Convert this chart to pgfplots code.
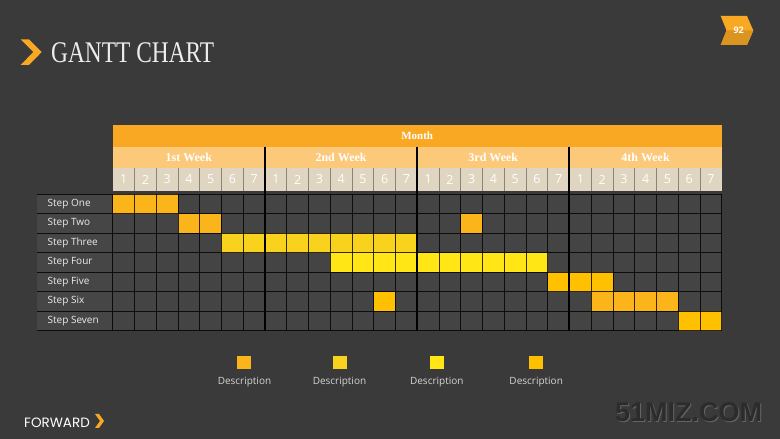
\documentclass[border=0pt]{standalone}
\usepackage{pgfplots}
\pgfplotsset{compat=1.18}
\usepackage{fontspec}
\setmainfont{Open Sans}
\newfontfamily\serifF{Liberation Serif}
\newfontfamily\popF{Poppins}
\newfontfamily\wmF{Liberation Sans}
\definecolor{bg}{HTML}{3A3A3A}
\definecolor{cell}{HTML}{444444}
\definecolor{lab}{HTML}{464646}
\definecolor{mon}{HTML}{F8A823}
\definecolor{wk}{HTML}{FCC97A}
\definecolor{dy}{HTML}{DFD5C1}
\definecolor{dysep}{HTML}{8A8377}
\definecolor{cA}{HTML}{FBB41A}
\definecolor{cB}{HTML}{F9D21E}
\definecolor{cC}{HTML}{FFE614}
\definecolor{cD}{HTML}{FFC000}
\definecolor{txt}{HTML}{ECECEC}
\begin{document}
\begin{tikzpicture}[x=1pt,y=1pt]
\fill[bg] (0,0) rectangle (780,439);
\useasboundingbox (0,0) rectangle (780,439);
% title
\fill[mon] (20.7,399.7) -- (29,399.7) -- (41.7,387) -- (29,374) -- (20.7,374) -- (33.3,387) -- cycle;
\node[anchor=base west, inner sep=0, text=txt] at (51,376) {\serifF\fontsize{30}{30}\selectfont\scalebox{0.78}[1]{GANTT CHART}};
% page badge
\fill[mon] (720.7,423) -- (747,423) -- (753.3,408.5) -- (747,394) -- (720.7,394) -- (726.5,408.5) -- cycle;
\fill[mon!88!black] (726.5,408.5) -- (753.3,408.5) -- (747,394) -- (720.7,394) -- cycle;
\node[text=white, inner sep=0] at (738.7,408.5) {\bfseries\fontsize{9}{9}\selectfont 92};
% footer
\node[anchor=base west, inner sep=0, text=white] at (24,11.5) {\popF\fontsize{13.5}{13.5}\selectfont FORWARD};
\fill[mon] (95,25) -- (99,25) -- (104,18) -- (99,11) -- (95,11) -- (100,18) -- cycle;
\node[anchor=base west, inner sep=0, text=white!22!bg] at (615.8,16.2) {\wmF\bfseries\fontsize{27}{27}\selectfont 51MIZ.COM};
\node[anchor=base west, inner sep=0, text=black!25!bg] at (615,17) {\wmF\bfseries\fontsize{27}{27}\selectfont 51MIZ.COM};
% legend
\fill[cA] (237.3,69.8) rectangle (251,83);
\fill[cB] (333,69.8) rectangle (346.7,83);
\fill[cC] (430,69.8) rectangle (443.7,83);
\fill[cD] (529,69.8) rectangle (542.7,83);
\node[anchor=base, text=txt!90!black, inner sep=0] at (244.5,54.8) {\fontsize{10}{10}\selectfont Description};
\node[anchor=base, text=txt!90!black, inner sep=0] at (339.5,54.8) {\fontsize{10}{10}\selectfont Description};
\node[anchor=base, text=txt!90!black, inner sep=0] at (436.8,54.8) {\fontsize{10}{10}\selectfont Description};
\node[anchor=base, text=txt!90!black, inner sep=0] at (536.2,54.8) {\fontsize{10}{10}\selectfont Description};
\begin{axis}[
  at={(112.7pt,108.3pt)}, anchor=south west,
  scale only axis, width=609pt, height=136.7pt,
  xmin=0, xmax=28, ymin=-0.5, ymax=6.5, y dir=reverse,
  clip=false, axis on top,
  axis background/.style={fill=cell},
  xtick={0,...,28}, ytick={-0.5,0.5,...,6.5},
  xticklabels={}, yticklabels={}, major tick length=0pt,
  grid=major, major grid style={draw=black, opacity=0.8, line width=0.8pt},
  axis line style={draw=none},
]
% header bands
\fill[mon] (axis cs:0,-4.033) rectangle (axis cs:28,-2.922);
\fill[wk] (axis cs:0,-2.922) rectangle (axis cs:28,-1.816);
\fill[dy] (axis cs:0,-1.816) rectangle (axis cs:28,-0.669);
\pgfplotsinvokeforeach{1,...,27}{\draw[dysep, line width=0.8pt] (axis cs:#1,-1.816) -- (axis cs:#1,-0.669);}
\node[text=white] at (axis cs:14,-3.478) {\serifF\bfseries\fontsize{11}{11}\selectfont Month};
\node[text=white] at (axis cs:3.5,-2.369) {\serifF\bfseries\fontsize{12}{12}\selectfont 1st Week};
\node[text=white] at (axis cs:10.5,-2.369) {\serifF\bfseries\fontsize{12}{12}\selectfont 2nd Week};
\node[text=white] at (axis cs:17.5,-2.369) {\serifF\bfseries\fontsize{12}{12}\selectfont 3rd Week};
\node[text=white] at (axis cs:24.5,-2.369) {\serifF\bfseries\fontsize{12}{12}\selectfont 4th Week};
\pgfplotsinvokeforeach{0,7,14,21}{
  \node[text=white] at (axis cs:#1+0.5,-1.243) {\fontsize{12.5}{12}\selectfont 1};
  \node[text=white] at (axis cs:#1+1.5,-1.243) {\fontsize{12.5}{12}\selectfont 2};
  \node[text=white] at (axis cs:#1+2.5,-1.243) {\fontsize{12.5}{12}\selectfont 3};
  \node[text=white] at (axis cs:#1+3.5,-1.243) {\fontsize{12.5}{12}\selectfont 4};
  \node[text=white] at (axis cs:#1+4.5,-1.243) {\fontsize{12.5}{12}\selectfont 5};
  \node[text=white] at (axis cs:#1+5.5,-1.243) {\fontsize{12.5}{12}\selectfont 6};
  \node[text=white] at (axis cs:#1+6.5,-1.243) {\fontsize{12.5}{12}\selectfont 7};
}
% label column
\fill[lab] (axis cs:-3.467,-0.5) rectangle (axis cs:-0.046,6.5);
\pgfplotsinvokeforeach{-0.5,0.5,...,6.5}{\draw[black, opacity=0.8, line width=0.8pt] (axis cs:-3.467,#1) -- (axis cs:0,#1);}
\node[anchor=west, text=txt] at (axis cs:-3.15,0) {\fontsize{10}{10}\selectfont Step One};
\node[anchor=west, text=txt] at (axis cs:-3.15,1) {\fontsize{10}{10}\selectfont Step Two};
\node[anchor=west, text=txt] at (axis cs:-3.15,2) {\fontsize{10}{10}\selectfont Step Three};
\node[anchor=west, text=txt] at (axis cs:-3.15,3) {\fontsize{10}{10}\selectfont Step Four};
\node[anchor=west, text=txt] at (axis cs:-3.15,4) {\fontsize{10}{10}\selectfont Step Five};
\node[anchor=west, text=txt] at (axis cs:-3.15,5) {\fontsize{10}{10}\selectfont Step Six};
\node[anchor=west, text=txt] at (axis cs:-3.15,6) {\fontsize{10}{10}\selectfont Step Seven};
% bars (start day index, end day index, row)
\addplot[fill=cA, draw=none] coordinates {(0,-0.5) (3,-0.5) (3,0.5) (0,0.5)} -- cycle;
\addplot[fill=cA, draw=none] coordinates {(3,0.5) (5,0.5) (5,1.5) (3,1.5)} -- cycle;
\addplot[fill=cA, draw=none] coordinates {(16,0.5) (17,0.5) (17,1.5) (16,1.5)} -- cycle;
\addplot[fill=cB, draw=none] coordinates {(5,1.5) (14,1.5) (14,2.5) (5,2.5)} -- cycle;
\addplot[fill=cC, draw=none] coordinates {(10,2.5) (20,2.5) (20,3.5) (10,3.5)} -- cycle;
\addplot[fill=cD, draw=none] coordinates {(20,3.5) (23,3.5) (23,4.5) (20,4.5)} -- cycle;
\addplot[fill=cD, draw=none] coordinates {(12,4.5) (13,4.5) (13,5.5) (12,5.5)} -- cycle;
\addplot[fill=cA, draw=none] coordinates {(22,4.5) (26,4.5) (26,5.5) (22,5.5)} -- cycle;
\addplot[fill=cD, draw=none] coordinates {(26,5.5) (28,5.5) (28,6.5) (26,6.5)} -- cycle;
% week separators
\pgfplotsinvokeforeach{7,14,21}{\draw[black, line width=2pt] (axis cs:#1,-2.922) -- (axis cs:#1,6.5);}
\end{axis}
\end{tikzpicture}
\end{document}
